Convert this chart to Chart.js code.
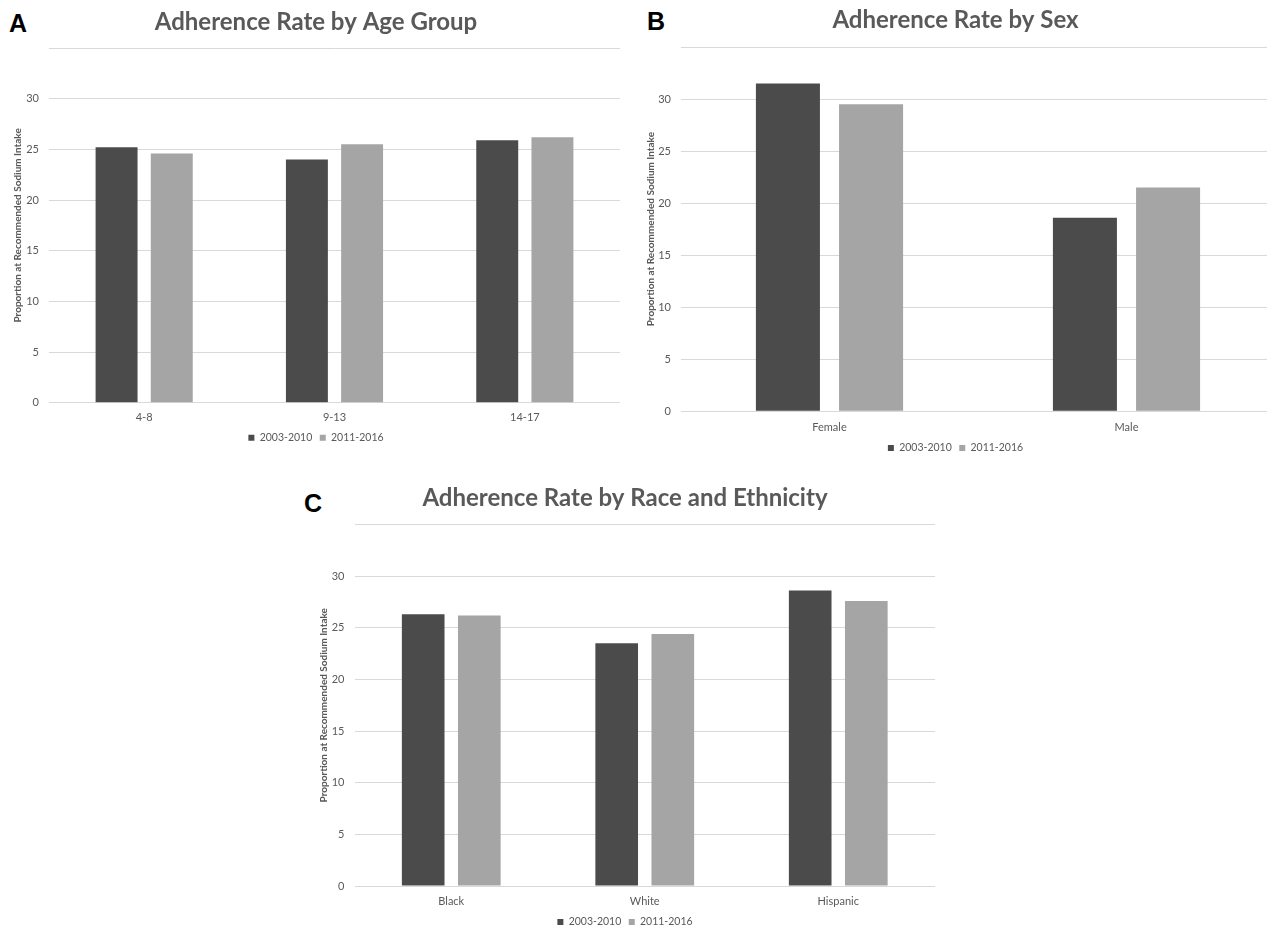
<!DOCTYPE html>
<html>
<head>
<meta charset="utf-8">
<script src="https://cdn.jsdelivr.net/npm/chart.js@4.4.1/dist/chart.umd.min.js"></script>
<style>
  html, body { margin: 0; padding: 0; background: #fff; overflow: hidden; }
  body { width: 1267px; height: 930px; position: relative; }
  .panel { position: absolute; }
  .letter {
    position: absolute;
    font-family: "Liberation Sans", Arial, sans-serif;
    font-weight: bold;
    font-size: 25px;
    line-height: 25px;
    color: #000;
  }
</style>
</head>
<body>
<div class="letter" style="left:9px; top:11px;">A</div>
<div class="letter" style="left:647px; top:9px;">B</div>
<div class="letter" style="left:304px; top:491px;">C</div>

<div class="panel" style="left:12px; top:0px; width:608px; height:453px;"><canvas id="chartA"></canvas></div>
<div class="panel" style="left:636px; top:0px; width:639px; height:463.3px;"><canvas id="chartB"></canvas></div>
<div class="panel" style="left:315px; top:470px; width:620px; height:467.3px;"><canvas id="chartC"></canvas></div>

<script>
// series names
var seriesNames = ["2003-2010", "2011-2016"];

// panel A: age group
var ageLabels = ["4-8", "9-13", "14-17"];
var age2003 = [25.2, 24.0, 25.9];
var age2011 = [24.6, 25.5, 26.2];

// panel B: sex
var sexLabels = ["Female", "Male"];
var sex2003 = [31.5, 18.6];
var sex2011 = [29.5, 21.5];

// panel C: race and ethnicity
var raceLabels = ["Black", "White", "Hispanic"];
var race2003 = [26.3, 23.5, 28.6];
var race2011 = [26.2, 24.4, 27.6];

var yTicks = [0, 5, 10, 15, 20, 25, 30, 35];

var textGrey = "#595959";
var font = "Lato, 'Open Sans', sans-serif";

function makePanel(id, title, labels, a, b, g) {
    return new Chart(document.getElementById(id), {
        type: "bar",
        data: {
            labels: labels,
            datasets: [
                { label: seriesNames[0], data: a, backgroundColor: "#4b4b4b",
                  categoryPercentage: g.cat, barPercentage: g.bar },
                { label: seriesNames[1], data: b, backgroundColor: "#a5a5a5",
                  categoryPercentage: g.cat, barPercentage: g.bar }
            ]
        },
        options: {
            responsive: true,
            maintainAspectRatio: false,
            animation: false,
            layout: { padding: 0 },
            plugins: {
                title: {
                    display: true,
                    text: title,
                    color: textGrey,
                    font: { family: font, size: 24, weight: "bold" },
                    padding: { top: g.titleTop, bottom: g.titleBottom }
                },
                legend: {
                    position: "bottom",
                    labels: {
                        color: textGrey,
                        font: { family: font, size: 10.5 },
                        boxWidth: 6,
                        boxHeight: 6,
                        padding: 7.5
                    }
                },
                tooltip: { enabled: false }
            },
            scales: {
                x: {
                    afterFit: function (scale) { scale.height = g.xHeight; },
                    grid: { display: false, drawTicks: false },
                    border: { display: false },
                    ticks: { color: textGrey, font: { family: font, size: 11 }, padding: g.xPad }
                },
                y: {
                    min: 0,
                    max: 35,
                    afterBuildTicks: function (axis) {
                        axis.ticks = yTicks.map(function (v) { return { value: v }; });
                    },
                    afterFit: function (scale) { scale.width = g.yWidth; },
                    grid: { color: "#d9d9d9", drawTicks: false },
                    border: { display: false },
                    ticks: {
                        color: textGrey,
                        font: { family: font, size: 11 },
                        padding: 10,
                        callback: function (v) { return v === 35 ? "" : v; }
                    },
                    title: {
                        display: true,
                        text: "Proportion at Recommended Sodium Intake",
                        color: textGrey,
                        font: { family: font, size: 10, weight: "bold" },
                        padding: { top: g.axisTitleTop, bottom: 0 }
                    }
                }
            }
        }
    });
}

makePanel("chartA", "Adherence Rate by Age Group", ageLabels, age2003, age2011,
    { cat: 0.58, bar: 0.76, yWidth: 37, titleTop: 7.6, titleBottom: 11.6,
      axisTitleTop: 0, xHeight: 22.25, xPad: 8.4 });
makePanel("chartB", "Adherence Rate by Sex", sexLabels, sex2003, sex2011,
    { cat: 0.56, bar: 0.77, yWidth: 45, titleTop: 5.6, titleBottom: 12.6,
      axisTitleTop: 9, xHeight: 24, xPad: 9.4 });
makePanel("chartC", "Adherence Rate by Race and Ethnicity", raceLabels, race2003, race2011,
    { cat: 0.58, bar: 0.76, yWidth: 39.5, titleTop: 13.6, titleBottom: 12.1,
      axisTitleTop: 3, xHeight: 23.25, xPad: 9.1 });
</script>
</body>
</html>
